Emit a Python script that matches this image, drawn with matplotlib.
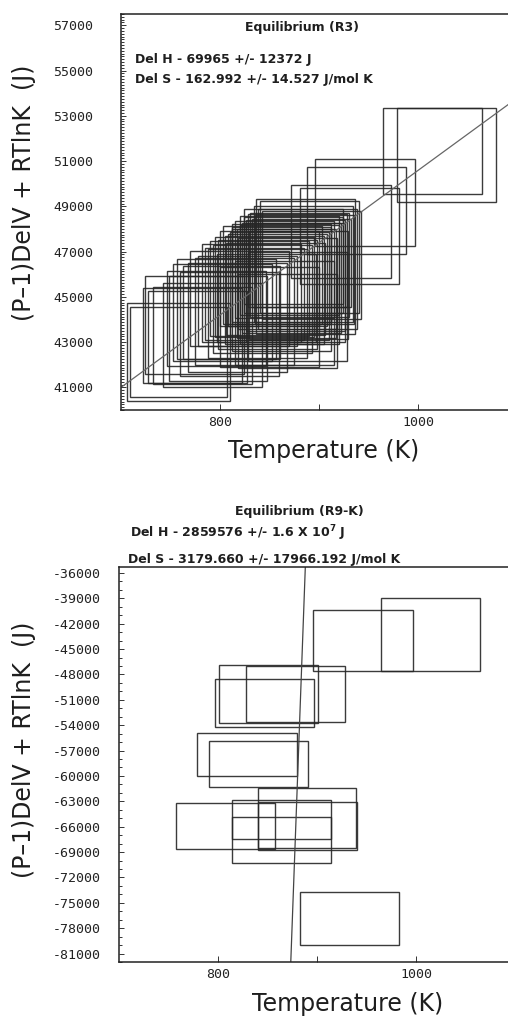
import matplotlib
matplotlib.use("Agg")
import matplotlib.pyplot as plt
from matplotlib.patches import Rectangle
from matplotlib.ticker import MultipleLocator, FixedLocator

# ---------------- Top panel: Equilibrium (R3) ----------------
top_T_lo = [706, 709, 722, 724, 727, 732, 746, 753, 757, 763, 770, 778, 782, 785,
            790, 795, 800, 803, 808, 812, 815, 820, 824, 828, 832, 836, 838, 834,
            830, 826, 840, 820, 812, 872, 881, 888, 896, 965, 979,
            742, 748, 760, 768, 775, 788, 793, 798, 805, 810, 817, 822, 826, 829,
            818, 806, 835, 842, 797, 812, 824,
            800, 815, 828, 818]
top_T_hi = [810, 807, 822, 824, 827, 832, 846, 853, 857, 861, 870, 878, 882, 885,
            890, 895, 900, 903, 908, 912, 915, 920, 924, 928, 932, 936, 938, 934,
            930, 926, 940, 920, 912, 973, 981, 988, 997, 1065, 1079,
            842, 848, 860, 868, 875, 888, 893, 898, 905, 910, 917, 922, 926, 929,
            918, 906, 935, 942, 897, 912, 924,
            900, 915, 928, 918]
top_y_lo = [40380, 40560, 41180, 41580, 41180, 41130, 41930, 42150, 42240, 42240,
            42820, 42820, 43000, 43080, 43260, 43220, 43700, 43790, 43700, 43790,
            44060, 44190, 44280, 44550, 44550, 43350, 43600, 43900, 44100, 43000,
            44300, 42900, 42600, 45820, 45580, 46880, 47250, 49540, 49170,
            41000, 41300, 41500, 41700, 42000, 42300, 42500, 42700, 42900, 43100,
            43200, 43400, 43500, 43150, 43600, 43300, 43800, 44000, 43000, 43900,
            44700,
            41900, 42000, 42150, 41850]
top_y_hi = [44720, 44550, 45390, 45920, 45260, 45430, 46140, 46450, 46670, 46360,
            47030, 46810, 47340, 47160, 47470, 47650, 47920, 48140, 47780, 48000,
            48360, 48180, 48540, 48670, 48450, 49330, 48890, 49020, 48710, 48270,
            49250, 48580, 48200, 49940, 49830, 50750, 51110, 53350, 53350,
            45600, 45900, 46100, 46500, 46700, 47100, 47300, 47500, 47700, 47850,
            48000, 48250, 48400, 47900, 47600, 47400, 48600, 48800, 46900, 48100,
            48900,
            46300, 46600, 47000, 46000]
top_fit_T = [700, 1100]
top_fit_y = [41000, 53780]
top_title = "Equilibrium (R3)"
top_delH = "Del H - 69965 +/- 12372 J"
top_delS = "Del S - 162.992 +/- 14.527 J/mol K"
top_yticks = list(range(41000, 57001, 2000))

# ---------------- Bottom panel: Equilibrium (R9-K) ----------------
bot_T_lo = [965, 896, 801, 797, 828, 779, 791, 758, 814, 814, 840, 840, 883]
bot_T_hi = [1065, 997, 901, 897, 928, 880, 891, 858, 914, 914, 939, 940, 983]
bot_y_lo = [-47650, -47550, -53690, -54240, -53580, -59970, -61310, -68690,
            -70340, -67500, -68530, -68770, -79940]
bot_y_hi = [-38960, -40350, -46860, -48550, -46980, -54950, -55860, -63240,
            -62850, -64900, -61460, -63050, -73780]
bot_delH_val = 2859576.0
bot_delS_val = 3179.660
bot_title = "Equilibrium (R9-K)"
bot_delH = r"Del H - 2859576 +/- 1.6 X $\mathbf{10^{7}}$ J"
bot_delS = "Del S - 3179.660 +/- 17966.192 J/mol K"
bot_yticks = list(range(-36000, -81001, -3000))

xlabel = "Temperature (K)"
ylabel = "(P\u20131)DelV + RTlnK  (J)"

W, H = 508, 1016
fig = plt.figure(figsize=(W / 100, H / 100), dpi=100)
fig.patch.set_facecolor("white")

def fx(px):
    return px / W

def fy(py):
    return 1 - py / H

ax1 = fig.add_axes([fx(121), fy(410), 1 - fx(121), (410 - 14) / H])
ax2 = fig.add_axes([fx(119), fy(962), 1 - fx(119), (962 - 567) / H])

box_color = "#262626"
tick_font = dict(family="DejaVu Sans Mono", size=9.5)

def style_axes(ax, ypad):
    for s in ["left", "bottom", "top"]:
        ax.spines[s].set_linewidth(1.1)
        ax.spines[s].set_color("#222222")
    ax.spines["right"].set_visible(False)
    ax.tick_params(axis="both", which="both", direction="in", color="#333333",
                   width=0.7, right=False, top=False)
    ax.tick_params(axis="y", which="major", length=3.5, pad=ypad)
    ax.tick_params(axis="y", which="minor", length=2.5)
    ax.tick_params(axis="x", which="both", length=4, pad=4)
    for lab in ax.get_xticklabels() + ax.get_yticklabels():
        lab.set_fontfamily(tick_font["family"])
        lab.set_fontsize(tick_font["size"])
        lab.set_color("#222222")

# --- top panel
for tl, th, yl, yh in zip(top_T_lo, top_T_hi, top_y_lo, top_y_hi):
    ax1.add_patch(Rectangle((tl, yl), th - tl, yh - yl, fill=False,
                            edgecolor=box_color, linewidth=1.0, alpha=0.9))
ax1.plot(top_fit_T, top_fit_y, color="#666666", linewidth=0.9)
ax1.set_xlim(700, 1091)
ax1.set_ylim(40000, 57500)
ax1.xaxis.set_major_locator(FixedLocator([800, 1000]))
ax1.xaxis.set_minor_locator(FixedLocator([900]))
ax1.yaxis.set_major_locator(FixedLocator(top_yticks))
ax1.yaxis.set_minor_locator(MultipleLocator(125))
ax1.set_xticklabels(["800", "1000"])
ax1.set_yticklabels([str(v) for v in top_yticks])
style_axes(ax1, 20)

# --- bottom panel
for tl, th, yl, yh in zip(bot_T_lo, bot_T_hi, bot_y_lo, bot_y_hi):
    ax2.add_patch(Rectangle((tl, yl), th - tl, yh - yl, fill=False,
                            edgecolor=box_color, linewidth=1.0, alpha=0.9))
fit_T2 = [860, 900]
fit_y2 = [t * bot_delS_val - bot_delH_val for t in fit_T2]
ax2.plot(fit_T2, fit_y2, color="#444444", linewidth=0.9)
ax2.set_xlim(700, 1093)
ax2.set_ylim(-82000, -35300)
ax2.xaxis.set_major_locator(FixedLocator([800, 1000]))
ax2.xaxis.set_minor_locator(FixedLocator([900]))
ax2.yaxis.set_major_locator(FixedLocator(bot_yticks))
ax2.yaxis.set_minor_locator(MultipleLocator(1000))
ax2.set_xticklabels(["800", "1000"])
ax2.set_yticklabels([str(v) for v in bot_yticks])
style_axes(ax2, 13)

# --- annotations
txt = dict(fontsize=9, fontweight="bold", color="#1e1e1e", family="DejaVu Sans")
fig.text(fx(302), fy(28), top_title, ha="center", va="center", **txt)
fig.text(fx(135), fy(60), top_delH, ha="left", va="center", **txt)
fig.text(fx(135), fy(80), top_delS, ha="left", va="center", **txt)
fig.text(fx(299), fy(512), bot_title, ha="center", va="center", **txt)
fig.text(fx(130), fy(533), bot_delH, ha="left", va="center", **txt)
fig.text(fx(128), fy(559), bot_delS, ha="left", va="center", **txt)

lab = dict(fontsize=17, color="#1e1e1e", family="DejaVu Sans")
fig.text(fx(324), fy(451), xlabel, ha="center", va="center", **lab)
fig.text(fx(348), fy(1004), xlabel, ha="center", va="center", **lab)
fig.text(fx(24), fy(193), ylabel, ha="center", va="center", rotation=90, **lab)
fig.text(fx(24), fy(750), ylabel, ha="center", va="center", rotation=90, **lab)

fig.savefig("out.png", dpi=100, facecolor="white")
